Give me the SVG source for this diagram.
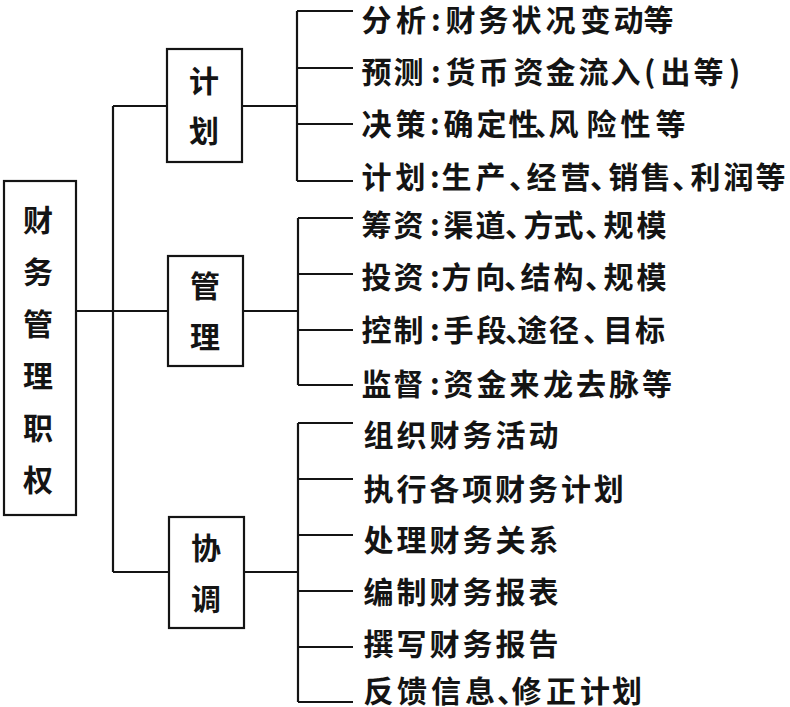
<svg xmlns="http://www.w3.org/2000/svg" width="790" height="707" viewBox="0 0 790 707">
<style>
.box{fill:none;stroke:#141414;stroke-width:2.2}
.ln{fill:none;stroke:#141414;stroke-width:2.2}
.nt{font-family:"Noto Sans CJK SC","Noto Sans CJK JP",sans-serif;font-size:30px;font-weight:700;fill:#141414;text-anchor:middle;dominant-baseline:central}
.it{font-family:"Noto Sans CJK SC","Noto Sans CJK JP",sans-serif;font-size:30px;font-weight:700;fill:#141414;dominant-baseline:central}
</style>
<rect width="790" height="707" fill="#ffffff"/>
<g id="connectors">
<path class="ln" d="M76 311H168"/>
<path class="ln" d="M113 106V572"/>
<path class="ln" d="M113 106H167"/>
<path class="ln" d="M113 572H169"/>
<path class="ln" d="M242 106H297"/>
<path class="ln" d="M297 11V181"/>
<path class="ln" d="M297 11H353M297 68H353M297 124H353M297 181H353"/>
<path class="ln" d="M243 311H298"/>
<path class="ln" d="M298 218V385"/>
<path class="ln" d="M298 218H353M298 274H353M298 330H353M298 385H353"/>
<path class="ln" d="M244 572H298"/>
<path class="ln" d="M298 423V702"/>
<path class="ln" d="M298 423H353M298 479H353M298 535H353M298 591H353M298 647H353M298 702H353"/>
</g>
<g id="root">
<rect class="box" x="4" y="181" width="72" height="334"/>
<text class="nt" x="38" y="218">财</text>
<text class="nt" x="38" y="270">务</text>
<text class="nt" x="38" y="322">管</text>
<text class="nt" x="38" y="374">理</text>
<text class="nt" x="38" y="426">职</text>
<text class="nt" x="38" y="478">权</text>
</g>
<g id="plan">
<rect class="box" x="167" y="49" width="75" height="113"/>
<text class="nt" x="204" y="79">计</text>
<text class="nt" x="204" y="129">划</text>
</g>
<g id="manage">
<rect class="box" x="168" y="256" width="75" height="110"/>
<text class="nt" x="205" y="284">管</text>
<text class="nt" x="205" y="335">理</text>
</g>
<g id="coordinate">
<rect class="box" x="169" y="517" width="75" height="111"/>
<text class="nt" x="206" y="546">协</text>
<text class="nt" x="206" y="597">调</text>
</g>
<g id="plan-items">
<text class="it" y="18" x="361.5 396 431 445.5 478.5 511.5 545.5 580.5 613.5 643.5">分析:财务状况变动等</text>
<text class="it" y="70" x="361.5 393.5 431 445.5 478.5 513.5 545.5 578.5 610.5 644 660.5 693.5 729">预测:货币资金流入(出等)</text>
<text class="it" y="122" x="361.5 395.5 430 443.5 476.5 508.5 534 548.5 586.5 620.5 655.5">决策:确定性、风险性等</text>
<text class="it" y="175" x="361.5 395.5 430 441.5 475.5 509 526.5 560.5 590 608.5 640.5 672 690.5 723.5 755.5">计划:生产、经营、销售、利润等</text>
</g>
<g id="manage-items">
<text class="it" y="223" x="361.5 393.5 430 443.5 475.5 505 523.5 553.5 585 603.5 636.5">筹资:渠道、方式、规模</text>
<text class="it" y="275" x="361.5 393.5 430 441.5 475.5 504 520.5 553.5 585 603.5 636.5">投资:方向、结构、规模</text>
<text class="it" y="328" x="361.5 393.5 430 443.5 476.5 505 517 549 583 603 635">控制:手段、途径、目标</text>
<text class="it" y="382" x="361.5 393.5 430 443.5 476.5 509.5 543 576 609 642">监督:资金来龙去脉等</text>
</g>
<g id="coordinate-items">
<text class="it" y="433" x="363.5 396.5 429.5 462.5 495.5 528.5">组织财务活动</text>
<text class="it" y="487" x="363.5 396.4 429.3 462.2 495.1 528 560.9 593.8">执行各项财务计划</text>
<text class="it" y="538" x="363.5 396.5 429.5 462.5 495.5 528.5">处理财务关系</text>
<text class="it" y="590" x="363.5 396.5 429.5 462.5 495.5 528.5">编制财务报表</text>
<text class="it" y="642" x="363.5 396.5 429.5 462.5 495.5 528.5">撰写财务报告</text>
<text class="it" y="689" x="363.5 397 431 465 497 511.5 546 580 612">反馈信息、修正计划</text>
</g>
</svg>
